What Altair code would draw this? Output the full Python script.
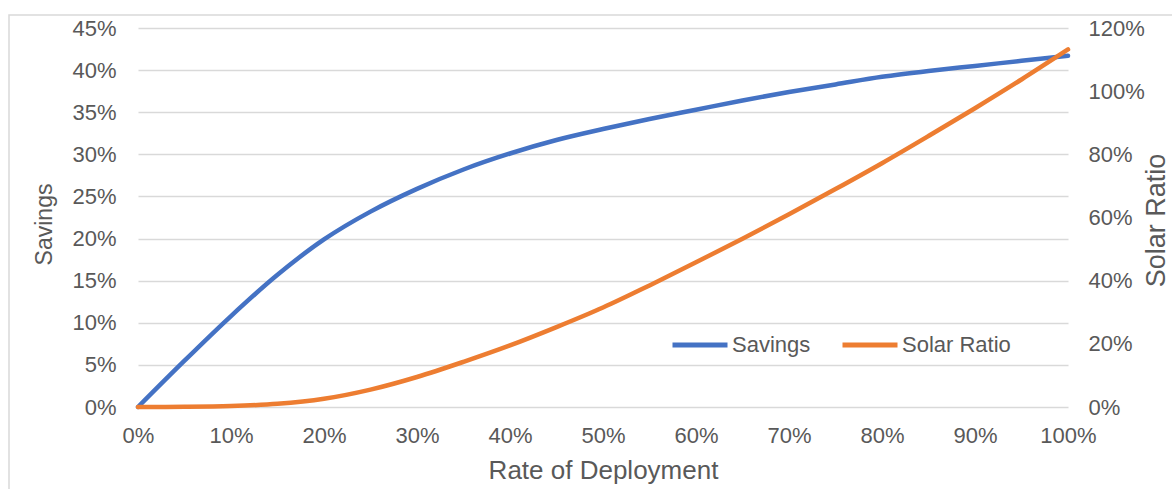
import altair as alt
import pandas as pd

# Rate of deployment (%)
deployment = [0, 5, 10, 15, 20, 25, 30, 35, 40, 45, 50,
              55, 60, 65, 70, 75, 80, 85, 90, 95, 100]
# Savings (%) - left axis
savings = [0.0, 5.5, 10.8, 15.7, 19.9, 23.2, 25.9, 28.2, 30.1, 31.7, 33.0,
           34.2, 35.3, 36.4, 37.4, 38.3, 39.2, 39.9, 40.5, 41.1, 41.7]
# Solar ratio (%) - right axis
solar_ratio = [0.0, 0.05, 0.3, 1.0, 2.6, 5.5, 9.5, 14.3, 19.5, 25.3, 31.5,
               38.5, 45.8, 53.3, 61.0, 69.0, 77.2, 85.8, 94.6, 103.7, 113.2]

series_names = ["Savings", "Solar Ratio"]
series_colors = ["#4472C4", "#ED7D31"]

df = pd.DataFrame({
    "deployment": deployment * 2,
    "value": savings + solar_ratio,
    "series": ["Savings"] * len(deployment) + ["Solar Ratio"] * len(deployment),
})

FONT = "Liberation Sans"
TEXT = "#595959"
GRID = "#D9D9D9"
LABEL_SIZE = 22

color = alt.Color(
    "series:N",
    scale=alt.Scale(domain=series_names, range=series_colors),
    legend=alt.Legend(
        title=None,
        orient="none",
        legendX=532,
        legendY=287,
        direction="horizontal",
        symbolType="stroke",
        symbolSize=3025,
        symbolStrokeWidth=5,
        labelFontSize=LABEL_SIZE,
        labelColor=TEXT,
        labelFont=FONT,
        labelOffset=2,
        columnPadding=21,
        padding=0,
    ),
)

x = alt.X(
    "deployment:Q",
    scale=alt.Scale(domain=[0, 100], nice=False),
    axis=alt.Axis(
        values=list(range(0, 101, 10)),
        labelExpr="datum.value + '%'",
        title="Rate of Deployment",
        grid=False, domain=False, ticks=False,
        labelFlush=False,
        labelPadding=18, titlePadding=11,
        titleFontSize=26,
    ),
)

base = alt.Chart(df)

savings_line = base.transform_filter(alt.datum.series == "Savings").mark_line(
    strokeWidth=4.5, interpolate="catmull-rom", strokeCap="round"
).encode(
    x=x,
    y=alt.Y(
        "value:Q",
        scale=alt.Scale(domain=[0, 45], nice=False),
        axis=alt.Axis(
            values=list(range(0, 46, 5)),
            labelExpr="datum.value + '%'",
            title="Savings",
            grid=True, gridColor=GRID, gridWidth=1.3,
            domain=False, ticks=False,
            labelPadding=22, titlePadding=15,
            titleFontSize=23, titleY=196,
        ),
    ),
    color=color,
)

solar_line = base.transform_filter(alt.datum.series == "Solar Ratio").mark_line(
    strokeWidth=4.5, interpolate="catmull-rom", strokeCap="round"
).encode(
    x=x,
    y=alt.Y(
        "value:Q",
        scale=alt.Scale(domain=[0, 120], nice=False),
        axis=alt.Axis(
            orient="right",
            values=list(range(0, 121, 20)),
            labelExpr="datum.value + '%'",
            title="Solar Ratio",
            titleAngle=270,
            grid=False, domain=False, ticks=False,
            labelPadding=20, titlePadding=26,
            titleFontSize=27, titleY=192,
        ),
    ),
    color=color,
)

# light frame around the whole chart
frame = alt.Chart(alt.Data(values=[{}])).mark_rect(
    fill=None, stroke=GRID, strokeWidth=1.5, clip=False
).encode(
    x=alt.value(-129), x2=alt.value(1200),
    y=alt.value(-13), y2=alt.value(600),
)

chart = alt.layer(frame, savings_line, solar_line).resolve_scale(
    y="independent"
).properties(
    width=930,
    height=379,
    autosize=alt.AutoSizeParams(type="none"),
    padding={"left": 138, "top": 28, "right": 104, "bottom": 82},
    background="white",
).configure_view(
    stroke=None
).configure_axis(
    labelFont=FONT, titleFont=FONT,
    labelFontSize=LABEL_SIZE, titleFontSize=24,
    labelColor=TEXT, titleColor=TEXT,
    titleFontWeight="normal",
)

chart.save("out.html", embed_options={"renderer": "svg", "actions": False})
